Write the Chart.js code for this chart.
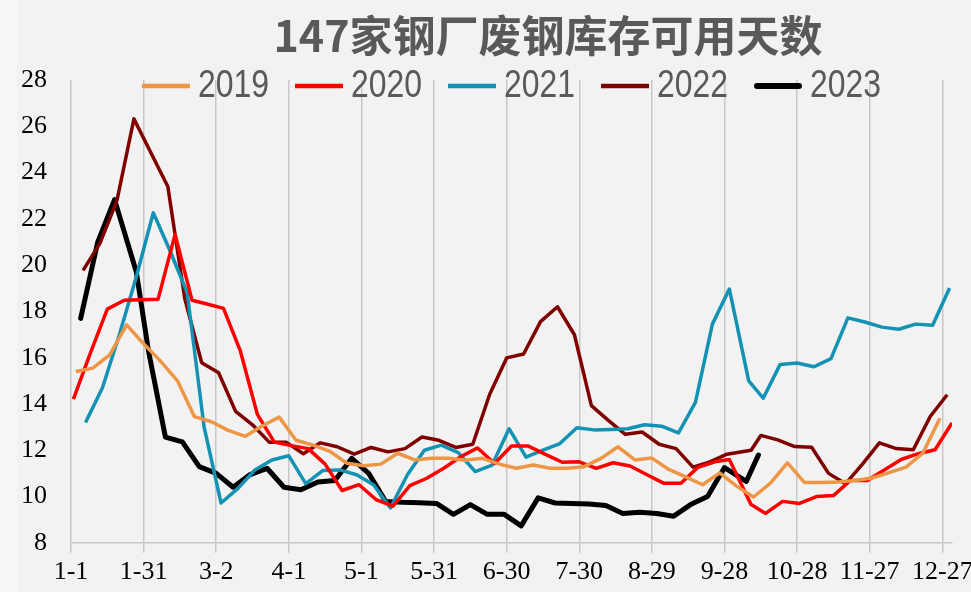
<!DOCTYPE html>
<html>
<head>
<meta charset="utf-8">
<script src="https://cdn.jsdelivr.net/npm/chart.js@4.4.0/dist/chart.umd.min.js"></script>
<style>
  html, body { margin: 0; padding: 0; }
  body {
    width: 971px; height: 592px; overflow: hidden;
    background: linear-gradient(to right, #f7f7f7 0, #f7f7f7 17px, #f2f2f2 17px);
  }
  canvas { display: block; }
</style>
</head>
<body>
<canvas id="chart" width="971" height="592" style="width:971px;height:592px"></canvas>
<script>
// 147家钢厂废钢库存可用天数 — weekly readings, one series per year
const titleText = '147家钢厂废钢库存可用天数';
const tickLabels = ['1-1', '1-31', '3-2', '4-1', '5-1', '5-31', '6-30', '7-30', '8-29', '9-28', '10-28', '11-27', '12-27'];

const dates2019 = ['1-3','1-10','1-17','1-24','1-31','2-7','2-14','2-21','2-28','3-7','3-14','3-21','3-28','4-4','4-11','4-18','4-25','5-2','5-9','5-16','5-23','5-30','6-6','6-13','6-20','6-27','7-4','7-11','7-18','7-25','8-1','8-8','8-15','8-22','8-29','9-5','9-12','9-19','9-26','10-3','10-10','10-17','10-24','10-31','11-7','11-14','11-21','11-28','12-5','12-12','12-19','12-26'];
const values2019 = [15.4,15.55,16.12,17.42,16.6,15.85,15.0,13.45,13.23,12.86,12.6,13.05,13.43,12.43,12.22,11.95,11.44,11.33,11.4,11.87,11.58,11.65,11.65,11.57,11.65,11.4,11.22,11.36,11.22,11.22,11.29,11.65,12.15,11.58,11.66,11.17,10.85,10.51,11.02,10.45,9.98,10.58,11.45,10.61,10.61,10.63,10.69,10.8,11.03,11.27,11.88,13.38];

const dates2020 = ['1-2','1-9','1-16','1-23','1-30','2-6','2-13','2-20','2-27','3-5','3-12','3-19','3-26','4-2','4-9','4-16','4-23','4-30','5-7','5-14','5-21','5-28','6-4','6-11','6-18','6-25','7-2','7-9','7-16','7-23','7-30','8-6','8-13','8-20','8-27','9-3','9-10','9-17','9-24','9-30','10-9','10-15','10-22','10-29','11-5','11-12','11-19','11-26','12-3','12-10','12-17','12-24','12-31'];
const values2020 = [14.21,16.2,18.1,18.48,18.5,18.53,21.33,18.48,18.3,18.13,16.28,13.55,12.35,12.2,12.07,11.4,10.26,10.51,9.87,9.58,10.47,10.79,11.22,11.72,12.1,11.43,12.18,12.18,11.82,11.48,11.5,11.22,11.46,11.32,10.94,10.57,10.57,11.26,11.5,11.6,9.65,9.27,9.79,9.7,10.0,10.04,10.69,10.69,11.15,11.6,11.85,12.02,13.18];

const dates2021 = ['1-7','1-14','1-21','1-28','2-4','2-11','2-18','2-25','3-4','3-11','3-18','3-25','4-1','4-8','4-15','4-22','4-29','5-6','5-13','5-20','5-27','6-3','6-10','6-17','6-24','7-1','7-8','7-15','7-22','7-29','8-5','8-12','8-19','8-26','9-2','9-9','9-16','9-23','9-30','10-8','10-14','10-21','10-28','11-4','11-11','11-18','11-25','12-2','12-9','12-16','12-23','12-30'];
const values2021 = [13.2,14.7,17.0,19.5,22.26,20.6,18.8,13.0,9.72,10.35,11.15,11.58,11.76,10.56,11.12,11.15,10.94,10.51,9.51,10.94,12.0,12.22,11.9,11.08,11.36,12.93,11.7,12.0,12.29,12.97,12.88,12.9,12.93,13.1,13.04,12.75,14.07,17.45,18.97,15.0,14.25,15.71,15.77,15.61,15.96,17.72,17.54,17.32,17.23,17.45,17.4,19.01];

const dates2022 = ['1-6','1-13','1-20','1-27','2-10','2-17','2-24','3-3','3-10','3-17','3-24','3-31','4-7','4-14','4-21','4-28','5-5','5-12','5-19','5-26','6-2','6-9','6-16','6-23','6-30','7-7','7-14','7-21','7-28','8-4','8-11','8-18','8-25','9-1','9-8','9-15','9-22','9-29','10-9','10-13','10-20','10-27','11-3','11-10','11-17','11-24','12-1','12-8','12-15','12-22','12-29'];
const values2022 = [19.77,20.95,22.8,26.32,23.4,18.56,15.78,15.35,13.68,13.1,12.34,12.34,11.85,12.32,12.15,11.83,12.12,11.93,12.07,12.57,12.43,12.12,12.26,14.42,15.99,16.16,17.56,18.2,16.99,13.93,13.29,12.69,12.79,12.26,12.07,11.27,11.5,11.83,12.0,12.64,12.45,12.16,12.13,11.0,10.55,11.4,12.32,12.07,12.02,13.46,14.4];

const dates2023 = ['1-5','1-12','1-19','1-28','2-2','2-9','2-16','2-23','3-2','3-9','3-16','3-23','3-30','4-6','4-13','4-20','4-27','5-4','5-11','5-18','5-25','6-1','6-8','6-15','6-22','6-29','7-6','7-13','7-20','7-27','8-3','8-10','8-17','8-24','8-31','9-7','9-14','9-21','9-28','10-7','10-12'];
const values2023 = [17.70,20.98,22.83,19.70,16.3,12.57,12.36,11.29,11.0,10.4,10.95,11.22,10.4,10.29,10.63,10.69,11.65,11.0,9.79,9.75,9.73,9.70,9.23,9.65,9.23,9.23,8.73,9.94,9.72,9.70,9.68,9.61,9.27,9.32,9.27,9.15,9.65,10.0,11.25,10.65,11.79];

// every year shares one calendar axis (day of a common year, Jan 1 = 0)
const monthStart = [0, 31, 59, 90, 120, 151, 181, 212, 243, 273, 304, 334];
function dayOfYear(md) {
  const [m, d] = md.split('-').map(Number);
  return monthStart[m - 1] + d - 1;
}
function points(dates, values) {
  return dates.map((md, i) => ({ x: dayOfYear(md), y: values[i] }));
}

function series(label, dates, values, color, width, cap) {
  return {
    label,
    data: points(dates, values),
    borderColor: color,
    backgroundColor: color,
    borderWidth: width,
    borderJoinStyle: 'round',
    borderCapStyle: cap,
    pointRadius: 0,
    pointHoverRadius: 0,
    tension: 0,
    fill: false
  };
}

const datasets = [
  series('2019', dates2019, values2019, '#ED9646', 3.5, 'butt'),
  series('2020', dates2020, values2020, '#FF0000', 3.5, 'butt'),
  series('2021', dates2021, values2021, '#1492B4', 3.5, 'butt'),
  series('2022', dates2022, values2022, '#800000', 3.5, 'butt'),
  series('2023', dates2023, values2023, '#000000', 5, 'round')
];

// title and a line-sample legend drawn across the top of the plot
const header = {
  id: 'header',
  afterDraw(chart) {
    const ctx = chart.ctx;
    const area = chart.chartArea;
    ctx.save();
    ctx.fillStyle = '#595959';
    ctx.font = 'bold 43px "Noto Sans CJK SC", "Liberation Sans", sans-serif';
    ctx.textAlign = 'center';
    ctx.textBaseline = 'middle';
    ctx.fillText(titleText, 548, 36);

    // condensed legend lettering
    ctx.font = '38px "Liberation Sans", Arial, sans-serif';
    const squeeze = 0.84;
    const sample = 48, gap = 8, spacing = 26, y = 86;
    const items = chart.data.datasets.map(ds => ({ ds, w: ctx.measureText(ds.label).width * squeeze }));
    const total = items.reduce((s, it) => s + sample + gap + it.w, 0) + spacing * (items.length - 1);
    let x = (area.left + area.right) / 2 - total / 2;
    items.forEach(it => {
      const round = it.ds.borderCapStyle === 'round';
      const lw = round ? 6 : 4.5;
      ctx.strokeStyle = it.ds.borderColor;
      ctx.lineWidth = lw;
      ctx.lineCap = round ? 'round' : 'butt';
      ctx.beginPath();
      ctx.moveTo(x + (round ? lw / 2 : 0), y);
      ctx.lineTo(x + sample - (round ? lw / 2 : 0), y);
      ctx.stroke();
      ctx.save();
      ctx.translate(x + sample + gap, y + 1);
      ctx.scale(squeeze, 1);
      ctx.textAlign = 'left';
      ctx.fillStyle = '#595959';
      ctx.fillText(it.ds.label, 0, 0);
      ctx.restore();
      x += sample + gap + it.w + spacing;
    });
    ctx.restore();
  }
};

const axisFont = { family: '"Liberation Serif", "Times New Roman", serif', size: 26 };

new Chart(document.getElementById('chart'), {
  type: 'line',
  data: { datasets },
  plugins: [header],
  options: {
    responsive: false,
    animation: false,
    events: [],
    layout: { padding: { left: 21, right: 19, top: 80, bottom: 0 } },
    plugins: {
      legend: { display: false },
      title: { display: false },
      tooltip: { enabled: false }
    },
    scales: {
      x: {
        type: 'linear',
        min: 0,
        max: 364,
        afterBuildTicks(scale) {
          scale.ticks = tickLabels.map((_, i) => ({ value: i * 30 }));
        },
        afterFit(scale) {
          scale.paddingLeft = 0;
          scale.paddingRight = 0;
        },
        ticks: {
          autoSkip: false,
          maxRotation: 0,
          padding: 4,
          color: '#000000',
          font: axisFont,
          callback: (value) => tickLabels[Math.round(value / 30)]
        },
        grid: {
          color: '#c8c8c8',
          lineWidth: 1.5,
          drawTicks: true,
          tickLength: 10,
          tickColor: '#c8c8c8'
        },
        border: { display: true, color: '#c8c8c8', width: 1.5 }
      },
      y: {
        min: 8,
        max: 28,
        afterFit(scale) {
          scale.width = 50;
        },
        ticks: {
          stepSize: 2,
          padding: 24,
          color: '#000000',
          font: axisFont
        },
        grid: { display: false, drawTicks: false },
        border: { display: false }
      }
    }
  }
});
</script>
</body>
</html>
